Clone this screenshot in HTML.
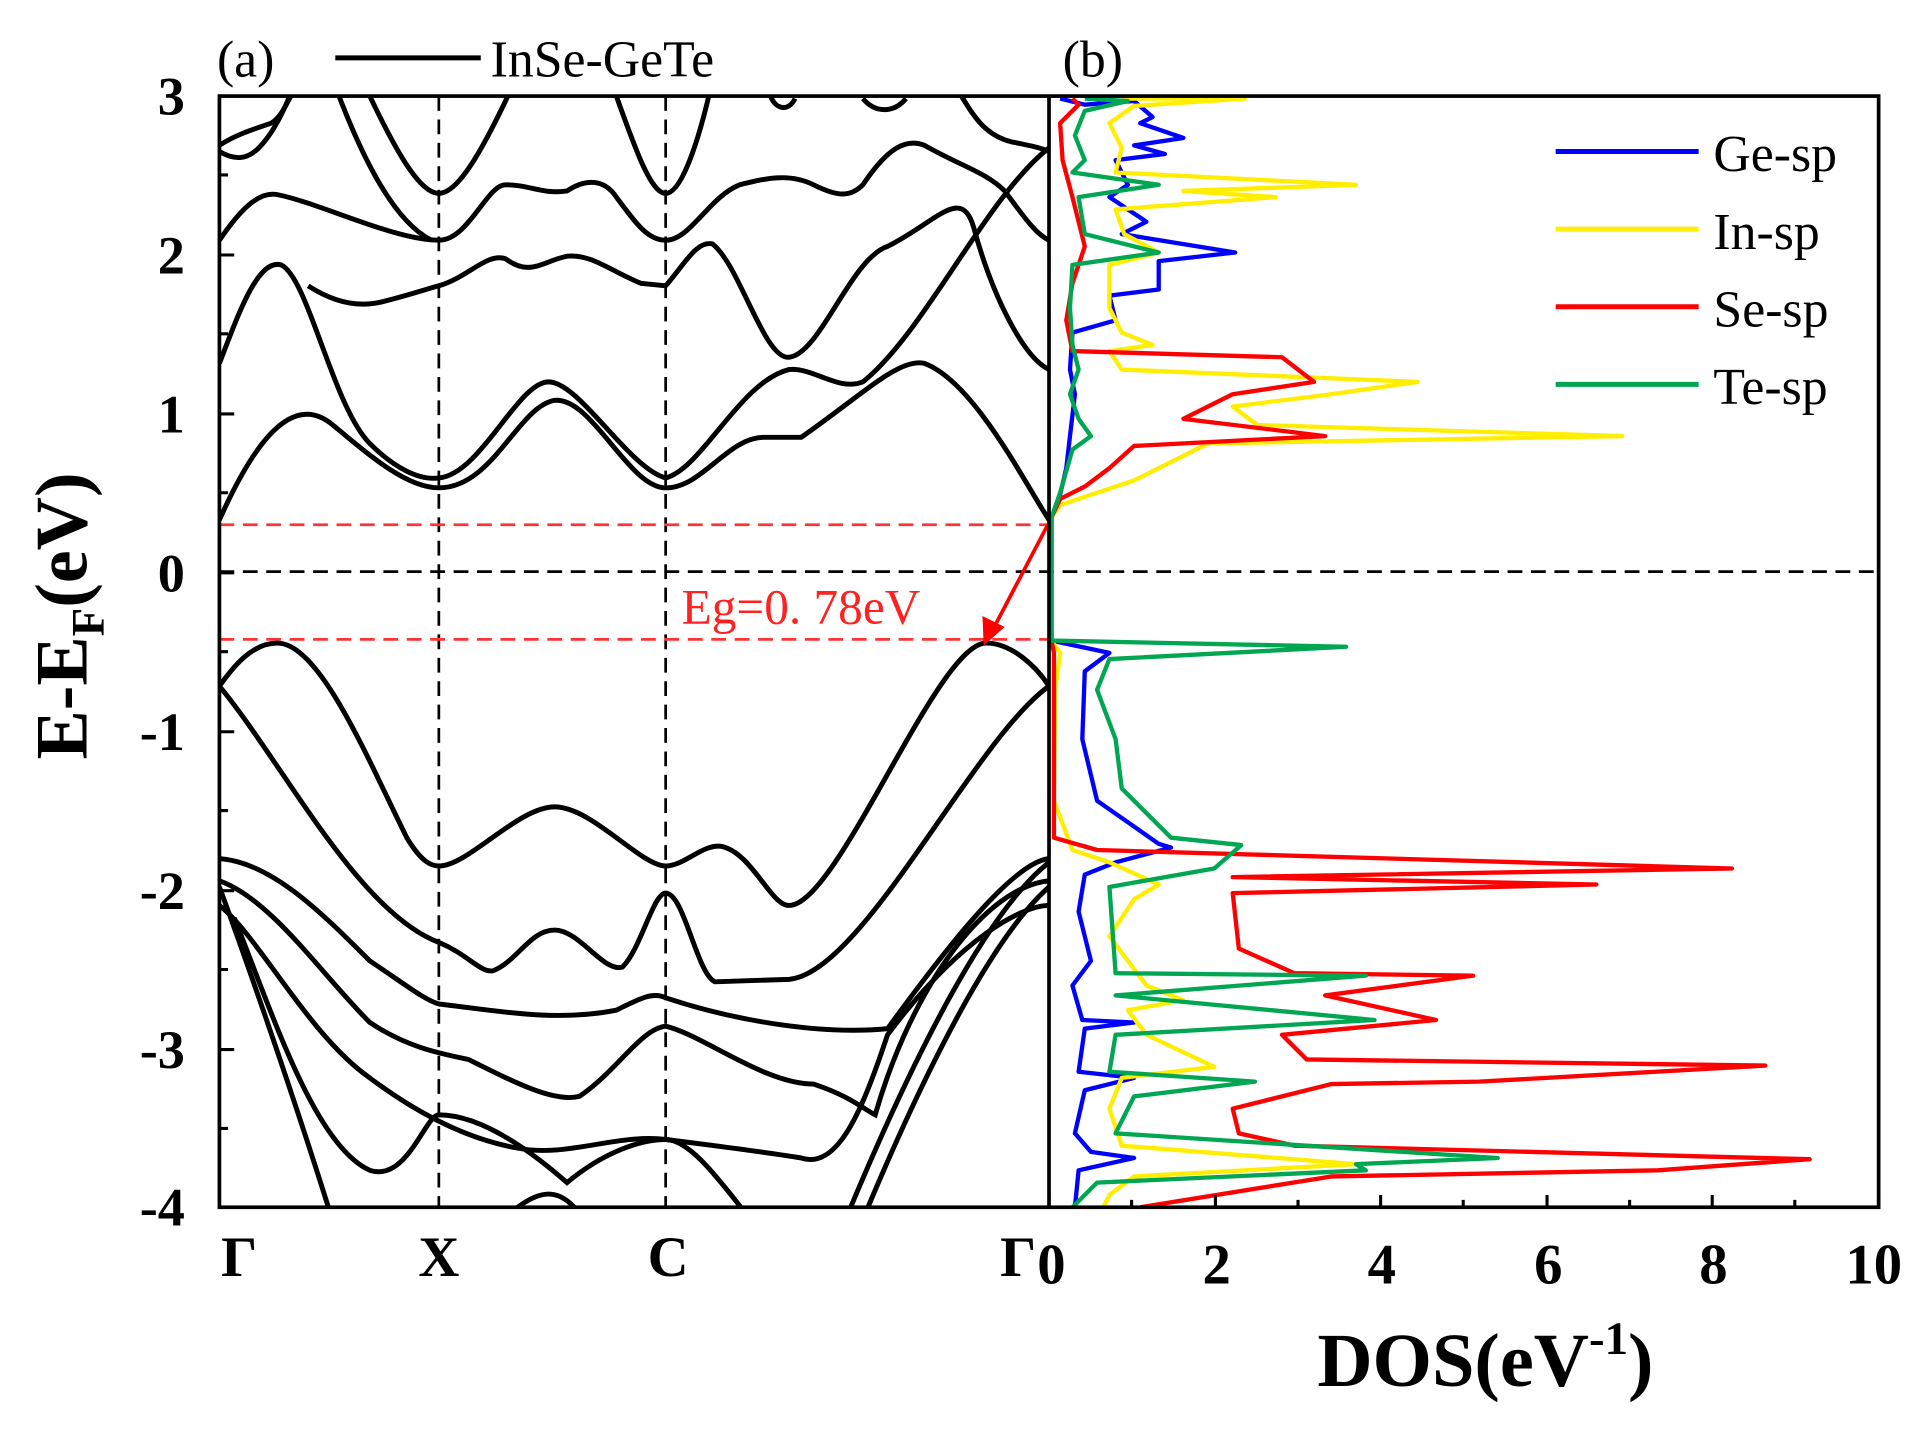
<!DOCTYPE html>
<html><head><meta charset="utf-8"><style>html,body{margin:0;padding:0;background:#fff}svg{display:block}</style></head>
<body>
<svg width="1923" height="1429" viewBox="0 0 1560 1160" preserveAspectRatio="none" xmlns="http://www.w3.org/2000/svg">
<defs><clipPath id="cb"><rect x="178" y="78" width="673" height="902"/></clipPath>
<clipPath id="cd"><rect x="851" y="78" width="673" height="902"/></clipPath></defs>
<rect width="1560" height="1160" fill="#fff"/>
<g stroke-width="2.2" fill="none" stroke-dasharray="12,7">
<line x1="356" y1="78" x2="356" y2="980" stroke="#000"/>
<line x1="540" y1="78" x2="540" y2="980" stroke="#000"/>
<line x1="178" y1="464" x2="1524" y2="464" stroke="#000"/>
<line x1="178" y1="426" x2="851" y2="426" stroke="#f33"/>
<line x1="178" y1="519" x2="851" y2="519" stroke="#f33"/>
</g>
<g clip-path="url(#cb)" stroke="#000" stroke-width="4" fill="none">
<path d="M178,422 C210,350 240,320 270,345 S330,396 356,396 C400,396 420,330 450,325 C480,322 510,396 540,396 C570,396 590,355 620,355 L650,355 C700,320 730,290 750,295 C790,310 830,390 851,422"/>
<path d="M178,295 C195,250 210,210 228,215 C250,225 270,330 300,360 C320,380 340,390 356,388 C390,385 420,310 445,310 C470,310 510,380 540,388 C570,380 600,310 640,300 C660,298 680,318 700,310 C750,270 800,160 851,120"/>
<path d="M250,232 C270,245 290,250 310,245 C330,240 345,235 356,232 C380,225 395,205 410,210 C430,225 440,212 460,208 C480,206 495,220 520,230 L540,232 C555,215 565,195 578,198 C600,215 620,292 640,290 C665,288 690,210 720,200 C760,180 780,150 790,185 C805,240 830,290 851,300"/>
<path d="M178,195 C195,170 210,155 225,158 C260,165 320,195 356,195 C380,195 395,150 410,150 C430,150 440,158 460,155 C475,145 490,145 500,160 C515,180 525,195 540,195 C560,195 575,160 600,150 C620,145 640,140 660,150 C680,160 690,160 700,150 C720,120 735,112 750,118 C780,135 800,140 815,155 C830,175 840,190 851,195"/>
<path d="M178,123 C190,130 200,130 210,120 C220,110 228,95 235,78"/>
<path d="M178,118 C190,110 205,105 220,100 C228,95 232,85 236,78"/>
<path d="M275,78 C295,130 320,180 350,195"/>
<path d="M300,78 C320,120 340,157 356,157 C372,157 392,120 412,78"/>
<path d="M500,78 C515,120 528,157 540,157 C552,157 565,120 575,78"/>
<path d="M625,78 C630,90 640,90 645,80 M700,80 C710,92 725,92 735,80"/>
<path d="M780,78 C790,95 800,110 820,115 C835,118 845,120 851,123"/>
<path d="M178,557 C190,540 205,522 225,522 C260,522 300,620 330,680 C342,700 350,703 356,703 C380,703 420,655 450,655 C480,655 520,703 540,703 C555,703 570,685 585,687 C610,692 625,735 640,735 C680,735 760,522 800,522 C820,522 840,540 851,557"/>
<path d="M178,557 C230,620 290,740 356,765 C380,775 390,790 400,788 C420,780 430,755 450,755 C470,755 490,790 505,785 C520,770 530,725 540,725 C555,725 565,790 580,797 L640,795 C700,790 790,600 851,557"/>
<path d="M178,697 C220,700 260,740 300,780 C330,800 345,812 356,815 C400,820 450,830 500,820 C520,810 530,805 540,810 C600,830 670,840 720,835 C760,780 820,700 851,697"/>
<path d="M178,715 C220,730 260,790 300,830 C330,850 356,855 380,860 C420,880 450,895 470,890 C500,870 520,835 540,833 C570,840 620,880 660,880 C690,890 700,900 710,905 C740,800 800,720 851,715"/>
<path d="M178,735 C210,760 250,840 300,875 C340,905 380,925 420,932 C460,940 500,920 540,925 C580,930 620,935 650,940 C680,950 700,900 720,840 C780,760 830,735 851,735"/>
<path d="M178,720 C200,780 235,880 268,985"/>
<path d="M190,745 C220,820 255,930 300,950 C330,960 345,905 356,905 C385,905 420,925 460,960 C490,935 520,925 540,925 C560,925 585,960 605,985"/>
<path d="M420,980 C440,965 455,965 470,985"/>
<path d="M688,985 C740,860 800,740 851,700 M702,985 C750,870 805,760 851,720"/>
</g>
<g clip-path="url(#cd)" fill="none" stroke-width="3.5" stroke-linejoin="round">
<polyline stroke="#0000ff" points="860,80 880,85 920,82 935,95 925,100 960,112 920,118 945,125 905,130 915,150 900,160 930,180 910,190 1002,205 940,212 940,235 900,240 905,260 870,270 868,300 872,320 868,354 865,380 858,410 853,420 853,520 900,530 880,545 878,600 890,650 940,685 950,688 905,700 880,710 875,740 885,780 870,800 878,828 920,830 880,835 875,870 920,875 880,885 872,920 885,935 920,940 875,950 872,980"/>
<polyline stroke="#ffee00" points="910,80 1010,80 920,86 900,100 910,120 905,140 1100,150 960,155 1035,160 905,170 912,190 940,205 900,215 900,250 910,270 935,280 900,285 910,300 1150,310 1080,320 1000,330 1020,345 1316,354 980,360 950,375 920,390 890,400 860,410 853,420 853,520 860,530 856,560 855,650 870,690 900,700 940,718 920,730 900,760 930,800 960,812 915,820 930,840 985,866 910,875 900,900 910,930 1100,945 920,955 900,970 895,980"/>
<polyline stroke="#ff0000" points="870,80 875,85 860,100 862,130 870,160 880,200 870,230 865,260 870,285 1040,290 1066,310 1000,320 960,340 1075,354 920,362 900,380 880,395 860,405 853,420 853,520 855,530 855,680 890,690 1405,705 1000,712 1295,718 1000,725 1005,770 1050,790 1195,792 1075,808 1165,828 1040,840 1060,860 1432,865 1200,878 1080,880 1000,900 1005,920 1050,930 1468,941 1345,950 1080,955 925,980"/>
<polyline stroke="#00a651" points="880,80 915,82 880,90 872,110 880,130 870,140 940,150 875,160 880,190 940,205 870,215 868,250 870,280 875,300 868,320 875,340 885,354 870,365 860,400 853,420 853,520 1092,525 900,535 890,560 905,600 910,640 950,680 1007,686 985,705 900,720 905,790 1108,792 905,808 1115,828 905,840 900,870 1018,878 920,890 905,920 1215,940 1100,945 1108,950 890,960 870,980"/>
</g>
<line x1="850" y1="426" x2="806" y2="510" stroke="#f00" stroke-width="3"/>
<polygon points="798,524 797,500 815,509" fill="#f00"/>
<text x="553" y="506" font-family="Liberation Serif" font-size="40" fill="#f22">Eg=0. 78eV</text>
<g stroke="#000" stroke-width="3" fill="none">
<rect x="178" y="78" width="1346" height="902"/>
<line x1="851" y1="78" x2="851" y2="980"/>
</g>
<g stroke="#000" stroke-width="2.5">
<path d="M178,78h12M178,142h7M178,207h12M178,271h7M178,336h12M178,400h7M178,465h12M178,529h7M178,594h12M178,658h7M178,723h12M178,787h7M178,852h12M178,916h7"/>
<path d="M851,980v-10M918,980v-6M986,980v-10M1053,980v-6M1120,980v-10M1187,980v-6M1255,980v-10M1322,980v-6M1389,980v-10M1456,980v-6M1524,980v-10"/>
</g>
<g font-family="Liberation Serif" font-weight="bold" font-size="44" text-anchor="end">
<text x="150" y="93">3</text><text x="150" y="222">2</text><text x="150" y="351">1</text><text x="150" y="480">0</text>
<text x="150" y="609">-1</text><text x="150" y="738">-2</text><text x="150" y="867">-3</text><text x="150" y="995">-4</text>
</g>
<g font-family="Liberation Serif" font-weight="bold" font-size="46" text-anchor="middle">
<text x="194" y="1036">Γ</text><text x="356" y="1036">X</text><text x="542" y="1036">C</text><text x="826" y="1036">Γ</text>
<text x="853" y="1042">0</text><text x="987" y="1042">2</text><text x="1121" y="1042">4</text><text x="1256" y="1042">6</text><text x="1390" y="1042">8</text><text x="1520" y="1042">10</text>
</g>
<text x="1205" y="1125" font-family="Liberation Serif" font-weight="bold" font-size="62" text-anchor="middle">DOS(eV<tspan font-size="38" dy="-26">-1</tspan><tspan dy="26">)</tspan></text>
<text transform="translate(70,500) rotate(-90)" font-family="Liberation Serif" font-weight="bold" font-size="60" text-anchor="middle">E-E<tspan font-size="38" dy="14">F</tspan><tspan dy="-14">(eV)</tspan></text>
<g font-family="Liberation Serif" font-size="42">
<text x="176" y="62">(a)</text><text x="398" y="62">InSe-GeTe</text><text x="862" y="62">(b)</text>
<text x="1390" y="139">Ge-sp</text><text x="1390" y="202">In-sp</text><text x="1390" y="265">Se-sp</text><text x="1390" y="328">Te-sp</text>
</g>
<g stroke-width="4">
<line x1="272" y1="47" x2="390" y2="47" stroke="#000"/>
<line x1="1262" y1="123" x2="1378" y2="123" stroke="#0000ff"/>
<line x1="1262" y1="186" x2="1378" y2="186" stroke="#ffee00"/>
<line x1="1262" y1="249" x2="1378" y2="249" stroke="#ff0000"/>
<line x1="1262" y1="312" x2="1378" y2="312" stroke="#00a651"/>
</g>
</svg>
</body></html>
